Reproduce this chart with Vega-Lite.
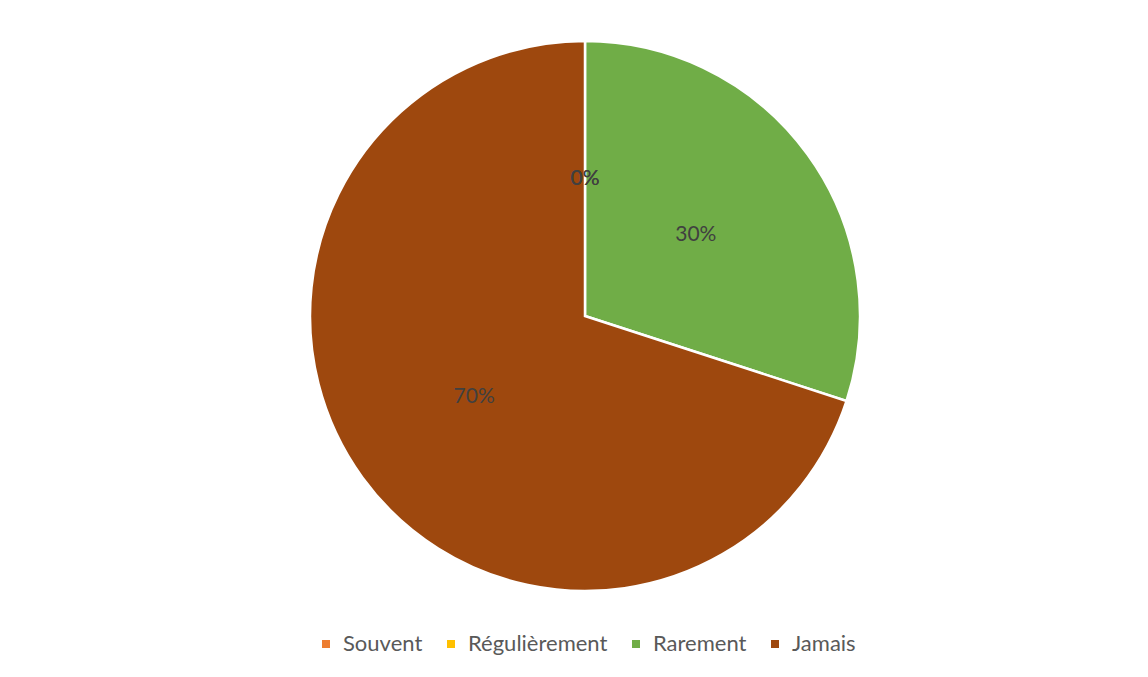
{
  "$schema": "https://vega.github.io/schema/vega-lite/v6.json",
  "width": 1148,
  "height": 632,
  "autosize": "none",
  "padding": {"left": 11, "top": 0, "right": -11, "bottom": 45},
  "background": "white",
  "config": {"view": {"stroke": null}},
  "data": {
    "values": [
      {"category": "Souvent", "value": 0, "label": "0%", "ord": 1},
      {"category": "Régulièrement", "value": 0, "label": "0%", "ord": 2},
      {"category": "Rarement", "value": 30, "label": "30%", "ord": 3},
      {"category": "Jamais", "value": 70, "label": "70%", "ord": 4}
    ]
  },
  "encoding": {
    "theta": {"field": "value", "type": "quantitative", "stack": true},
    "order": {"field": "ord", "type": "quantitative"}
  },
  "layer": [
    {
      "mark": {"type": "arc", "outerRadius": 275, "stroke": "white", "strokeWidth": 2.5},
      "encoding": {
        "color": {
          "field": "category",
          "type": "nominal",
          "scale": {
            "domain": ["Souvent", "Régulièrement", "Rarement", "Jamais"],
            "range": ["#ED7D31", "#FFC000", "#70AD47", "#9E480E"]
          },
          "legend": {
            "title": null,
            "orient": "none",
            "legendX": 304,
            "legendY": 633,
            "direction": "horizontal",
            "symbolType": "square",
            "symbolSize": 64,
            "symbolStrokeWidth": 0,
            "labelFont": "Lato",
            "labelFontSize": 22,
            "labelColor": "#595959",
            "columnPadding": 17,
            "labelOffset": 6
          }
        }
      }
    },
    {
      "mark": {"type": "text", "radius": 137, "font": "Lato", "fontSize": 21, "color": "#404040"},
      "encoding": {
        "text": {"field": "label", "type": "nominal"}
      }
    }
  ]
}
